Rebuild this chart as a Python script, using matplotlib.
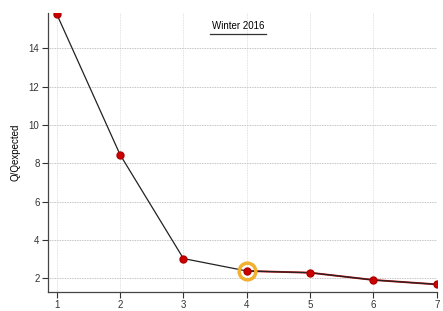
import matplotlib.pyplot as plt

plt.rcParams['font.family'] = ['Liberation Sans', 'DejaVu Sans']

x = [1, 2, 3, 4, 5, 6, 7]
q_ratio = [15.8, 8.45, 3.02, 2.37, 2.28, 1.9, 1.67]
highlight = 3  # index of the circled point
yticks = [2, 4, 6, 8, 10, 12, 14]

fig = plt.figure(figsize=(4.43, 3.11), dpi=100)
ax = fig.add_axes([0.108, 0.061, 0.878, 0.897])

ax.plot(x[highlight:], q_ratio[highlight:], color="#cc1010", lw=1.4, zorder=2)
ax.plot(x, q_ratio, color="#222222", lw=0.9, zorder=3)
ax.plot(x, q_ratio, "o", color="#cc0000", ms=5, mec="#b00000", zorder=4)
ax.plot(x[highlight], q_ratio[highlight], "o", ms=12, mfc="none",
        mec="#f0b030", mew=2.5, zorder=5)

ax.set_xlim(0.86, 7.0)
ax.set_ylim(1.27, 15.85)
ax.set_xticks(x)
ax.set_yticks(yticks)
ax.tick_params(labelsize=7, length=4, width=0.8, colors="#333333", pad=2)
ax.grid(True, axis="y", ls=(0, (1, 1)), color="#b0b0b0", lw=0.6)
ax.grid(True, axis="x", ls=(0, (1, 1)), color="#d8d8d8", lw=0.6)
for s in ["top", "right"]:
    ax.spines[s].set_visible(False)
for s in ["left", "bottom"]:
    ax.spines[s].set_color("#444444")
    ax.spines[s].set_linewidth(0.9)

ax.set_ylabel("Q/Qexpected", fontsize=7, labelpad=6)

fig.text(0.537, 0.9, "Winter 2016", fontsize=7, ha="center", va="bottom")
fig.add_artist(plt.Line2D([0.474, 0.600], [0.891, 0.891], color="#333333", lw=0.9))

fig.savefig("out.png", dpi=100)
